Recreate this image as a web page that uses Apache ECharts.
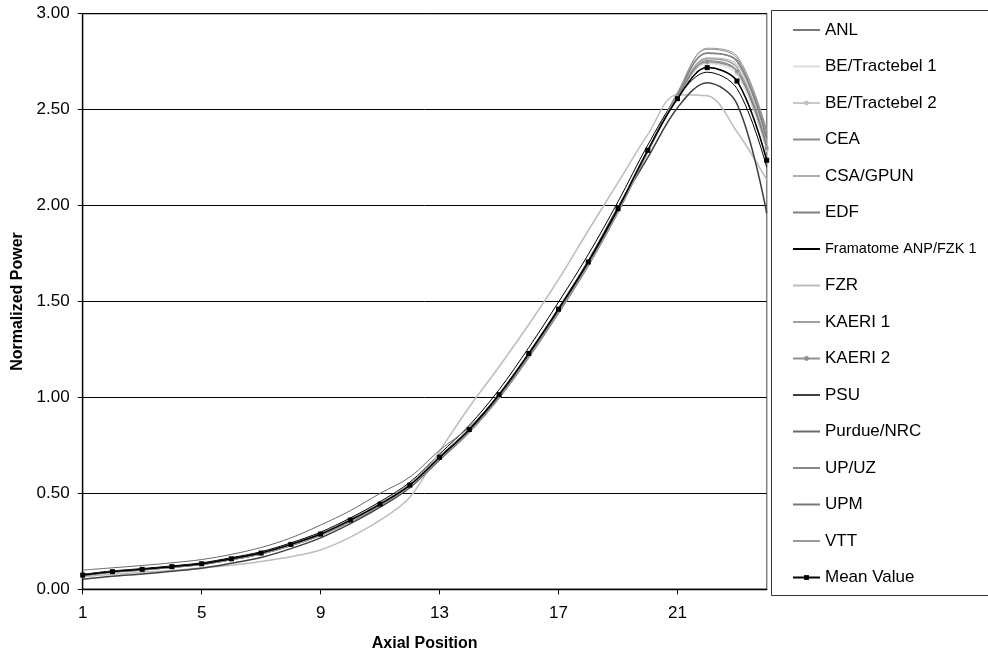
<!DOCTYPE html>
<html><head><meta charset="utf-8">
<script src="https://cdn.jsdelivr.net/npm/echarts@6/dist/echarts.min.js"></script>
<style>html,body{margin:0;padding:0;background:#fff}#c{width:988px;height:657px}</style>
</head><body><div id="c"></div>
<script>
const categories = ['1','2','3','4','5','6','7','8','9','10','11','12','13','14','15','16','17','18','19','20','21','22','23','24'];
const yTicks = [0, 0.5, 1, 1.5, 2, 2.5, 3];

const ANL        = [0.073,0.091,0.103,0.117,0.132,0.158,0.188,0.233,0.287,0.360,0.443,0.542,0.687,0.832,1.010,1.225,1.457,1.703,1.980,2.287,2.560,2.745,2.700,2.290];
const BE1        = [0.075,0.093,0.105,0.119,0.134,0.160,0.190,0.236,0.290,0.362,0.446,0.545,0.690,0.836,1.012,1.226,1.458,1.704,1.982,2.290,2.560,2.740,2.680,2.280];
const BE2        = [0.075,0.093,0.104,0.118,0.133,0.158,0.188,0.233,0.287,0.359,0.442,0.541,0.686,0.830,1.008,1.222,1.452,1.700,1.978,2.287,2.563,2.745,2.690,2.290];
const CEA        = [0.072,0.090,0.101,0.114,0.129,0.154,0.183,0.227,0.280,0.352,0.433,0.530,0.672,0.815,0.995,1.205,1.437,1.685,1.965,2.285,2.590,2.815,2.770,2.390];
const CSA        = [0.076,0.094,0.106,0.120,0.135,0.161,0.192,0.238,0.292,0.366,0.450,0.550,0.695,0.840,1.020,1.235,1.468,1.713,1.990,2.295,2.570,2.770,2.735,2.340];
const EDF        = [0.074,0.091,0.102,0.116,0.131,0.156,0.186,0.230,0.284,0.356,0.438,0.536,0.680,0.822,1.000,1.215,1.445,1.692,1.970,2.283,2.580,2.795,2.755,2.350];
const FRAMATOME  = [0.078,0.096,0.108,0.122,0.138,0.165,0.196,0.242,0.298,0.372,0.457,0.558,0.705,0.855,1.040,1.260,1.497,1.745,2.020,2.315,2.565,2.695,2.610,2.200];
const FZR        = [0.065,0.078,0.088,0.098,0.112,0.125,0.145,0.170,0.205,0.272,0.360,0.480,0.720,0.950,1.160,1.380,1.615,1.870,2.120,2.370,2.578,2.572,2.385,2.135];
const KAERI1     = [0.073,0.090,0.102,0.115,0.130,0.155,0.185,0.229,0.282,0.354,0.436,0.534,0.678,0.820,0.998,1.212,1.442,1.690,1.968,2.282,2.570,2.765,2.720,2.320];
const KAERI2     = [0.074,0.092,0.103,0.117,0.132,0.157,0.187,0.232,0.286,0.358,0.440,0.540,0.684,0.828,1.006,1.220,1.450,1.697,1.975,2.285,2.565,2.750,2.700,2.300];
const PSU        = [0.052,0.068,0.080,0.094,0.110,0.136,0.166,0.212,0.268,0.342,0.428,0.530,0.676,0.825,1.005,1.225,1.462,1.712,1.990,2.250,2.510,2.640,2.530,1.960];
const PURDUE     = [0.100,0.112,0.124,0.138,0.155,0.182,0.218,0.268,0.335,0.410,0.500,0.585,0.725,0.845,1.015,1.228,1.460,1.705,1.980,2.285,2.555,2.720,2.650,2.240];
const UPUZ       = [0.070,0.088,0.100,0.113,0.128,0.153,0.183,0.227,0.281,0.353,0.435,0.533,0.677,0.820,0.995,1.208,1.438,1.684,1.962,2.276,2.575,2.795,2.750,2.380];
const UPM        = [0.072,0.090,0.101,0.115,0.130,0.156,0.186,0.231,0.285,0.357,0.440,0.539,0.683,0.826,1.003,1.217,1.449,1.696,1.974,2.284,2.565,2.755,2.705,2.310];
const VTT        = [0.071,0.089,0.101,0.114,0.129,0.154,0.184,0.228,0.282,0.354,0.437,0.535,0.679,0.822,0.999,1.212,1.443,1.690,1.968,2.282,2.585,2.820,2.780,2.390];
const MEAN       = [0.074,0.092,0.104,0.118,0.133,0.159,0.189,0.234,0.288,0.361,0.444,0.543,0.688,0.833,1.015,1.229,1.460,1.706,1.984,2.288,2.557,2.719,2.649,2.236];

function s(name, data, color, width, symbol, symSize, symColor) {
  return {
    name, type: 'line', data, smooth: 0.35,
    symbol: symbol || 'none', symbolSize: symSize || 0,
    showSymbol: !!symbol,
    lineStyle: { color, width },
    itemStyle: { color: symColor || color, borderWidth: 0 },
    emphasis: { disabled: true }, animation: false
  };
}

const series = [
  s('ANL', ANL, '#7a7a7a', 1),
  s('BE/Tractebel 1', BE1, '#dcdcdc', 1),
  s('BE/Tractebel 2', BE2, '#c8c8c8', 1, 'circle', 4, '#c0c0c0'),
  s('CEA', CEA, '#8c8c8c', 1),
  s('CSA/GPUN', CSA, '#b0b0b0', 1),
  s('EDF', EDF, '#808080', 1.8),
  s('Framatome ANP/FZK 1', FRAMATOME, '#000000', 1),
  s('FZR', FZR, '#bdbdbd', 1.5),
  s('KAERI 1', KAERI1, '#a0a0a0', 1.5),
  s('KAERI 2', KAERI2, '#909090', 1, 'circle', 4, '#909090'),
  s('PSU', PSU, '#404040', 1.5),
  s('Purdue/NRC', PURDUE, '#6a6a6a', 1),
  s('UP/UZ', UPUZ, '#888888', 1),
  s('UPM', UPM, '#777777', 1),
  s('VTT', VTT, '#9a9a9a', 1),
  s('Mean Value', MEAN, '#000000', 1.5, 'rect', 5, '#000000')
];
series[series.length-1].z = 5;

const legendData = series.map(se => se.showSymbol
  ? { name: se.name }
  : { name: se.name, itemStyle: { opacity: 0 } });

const chart = echarts.init(document.getElementById('c'), null, { renderer: 'canvas' });
chart.setOption({
  backgroundColor: '#ffffff',
  animation: false,
  textStyle: { fontFamily: 'Liberation Sans, Arial, sans-serif' },
  grid: { left: 82.7, right: 221.3, top: 13.7, bottom: 67.7, show: true, borderColor: '#808080', borderWidth: 1.5, backgroundColor: 'transparent' },
  xAxis: {
    type: 'category', data: categories, boundaryGap: false,
    name: 'Axial Position', nameLocation: 'middle', nameGap: 46,
    nameTextStyle: { fontSize: 16, fontWeight: 'bold', color: '#000', fontFamily: 'Liberation Sans' },
    axisLine: { lineStyle: { color: '#000', width: 1.3 } },
    axisTick: { show: true, interval: 3, length: 5, lineStyle: { color: '#000' } },
    axisLabel: { interval: 3, margin: 16, fontSize: 17, color: '#000', fontFamily: 'Liberation Sans' },
    splitLine: { show: false }
  },
  yAxis: {
    type: 'value', min: yTicks[0], max: yTicks[yTicks.length-1], interval: 0.5,
    name: 'Normalized Power', nameLocation: 'middle', nameGap: 53,
    nameTextStyle: { fontSize: 16, fontWeight: 'bold', color: '#000', fontFamily: 'Liberation Sans' },
    axisLine: { show: true, lineStyle: { color: '#000', width: 1.3 } },
    axisTick: { show: true, length: 5, lineStyle: { color: '#000' } },
    axisLabel: { margin: 13, fontSize: 17, color: '#000', fontFamily: 'Liberation Sans', formatter: v => v.toFixed(2) },
    splitLine: { show: true, lineStyle: { color: '#000', width: 1 } }
  },
  legend: {
    data: legendData,
    orient: 'vertical', left: 792, top: 21.5, padding: 0,
    itemWidth: 27, itemHeight: 6, itemGap: 19.5,
    textStyle: { fontSize: 17, color: '#000', lineHeight: 17, fontFamily: 'Liberation Sans', rich: { s: { fontSize: 14.5, lineHeight: 17, fontFamily: 'Liberation Sans', color: '#000' } } },
    formatter: n => n === 'Framatome ANP/FZK 1' ? '{s|' + n + '}' : n,
    selectedMode: false
  },
  graphic: [{
    type: 'rect', shape: { x: 771.5, y: 10.5, width: 230, height: 585 },
    style: { fill: 'transparent', stroke: '#333', lineWidth: 1 }, z: -1
  }],
  series
});
</script></body></html>
